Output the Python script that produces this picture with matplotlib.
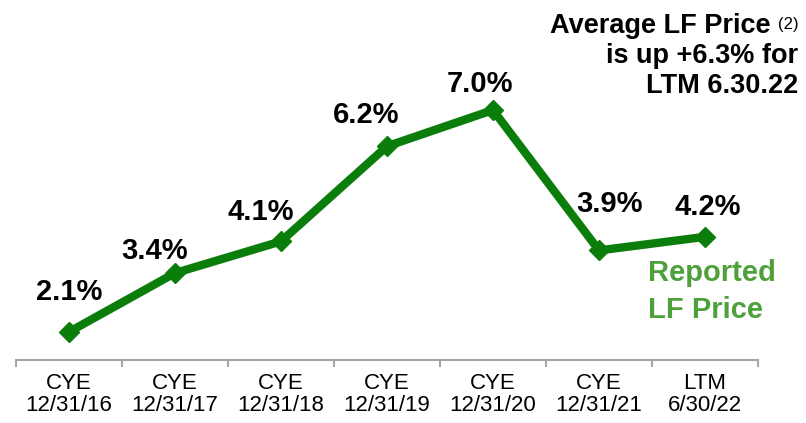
import matplotlib

matplotlib.use("Agg")
import matplotlib.pyplot as plt
from matplotlib.ticker import FixedLocator

# chart data
periods = ["CYE\n12/31/16", "CYE\n12/31/17", "CYE\n12/31/18", "CYE\n12/31/19",
           "CYE\n12/31/20", "CYE\n12/31/21", "LTM\n6/30/22"]
lf_price = [2.1, 3.4, 4.1, 6.2, 7.0, 3.9, 4.2]
value_labels = ["2.1%", "3.4%", "4.1%", "6.2%", "7.0%", "3.9%", "4.2%"]

# label offsets (pixels) relative to each marker
label_offsets = [(0, 40), (-20, 22), (-20, 29), (-21, 31), (-13, 26), (11, 46), (3, 30)]

LINE_GREEN = "#0B7D0B"
TEXT_GREEN = "#4DA03A"
AXIS_GRAY = "#A6A6A6"
W, H = 806, 423

fig = plt.figure(figsize=(W / 100, H / 100), dpi=100)
ax = fig.add_axes([16 / W, 1 - 360 / H, 742 / W, 360 / H])

ax.plot(range(len(lf_price)), lf_price, color=LINE_GREEN, linewidth=6,
        marker="D", markersize=10, markeredgewidth=1, markeredgecolor=LINE_GREEN,
        solid_joinstyle="miter", zorder=3)

for i, (val, txt) in enumerate(zip(lf_price, value_labels)):
    dx, dy = label_offsets[i]
    ax.annotate(txt, (i, val), xytext=(dx, dy), textcoords="offset pixels",
                ha="center", va="center", fontsize=21, fontweight="bold",
                family="Liberation Sans", color="black")

ax.set_xlim(-0.5, len(lf_price) - 0.5)
ax.set_ylim(1.48, 9.43)

for side in ("top", "right", "left"):
    ax.spines[side].set_visible(False)
ax.spines["bottom"].set_color(AXIS_GRAY)
ax.spines["bottom"].set_linewidth(1.5)
ax.set_yticks([])

ax.set_xticks(range(len(periods)))
ax.set_xticklabels(periods, fontsize=16, family="Liberation Sans", linespacing=1.08)
ax.tick_params(axis="x", which="major", length=0, pad=9)
ax.xaxis.set_minor_locator(FixedLocator([i - 0.5 for i in range(len(periods) + 1)]))
ax.tick_params(axis="x", which="minor", length=5, width=1.5, color=AXIS_GRAY, direction="out")

fig.text(648 / W, 1 - 281 / H, "Reported", ha="left", va="baseline", fontsize=21,
         fontweight="bold", family="Liberation Sans", color=TEXT_GREEN)
fig.text(648 / W, 1 - 318 / H, "LF Price", ha="left", va="baseline", fontsize=21,
         fontweight="bold", family="Liberation Sans", color=TEXT_GREEN)

fig.text(770 / W, 1 - 33 / H, "Average LF Price", ha="right", va="baseline",
         fontsize=19.5, fontweight="bold", family="Liberation Sans")
fig.text(799 / W, 1 - 29 / H, "(2)", ha="right", va="baseline",
         fontsize=12, family="Liberation Sans")
fig.text(798 / W, 1 - 63 / H, "is up +6.3% for", ha="right", va="baseline",
         fontsize=19.5, fontweight="bold", family="Liberation Sans")
fig.text(798 / W, 1 - 93 / H, "LTM 6.30.22", ha="right", va="baseline",
         fontsize=19.5, fontweight="bold", family="Liberation Sans")

fig.savefig("out.png", dpi=100, facecolor="white")
